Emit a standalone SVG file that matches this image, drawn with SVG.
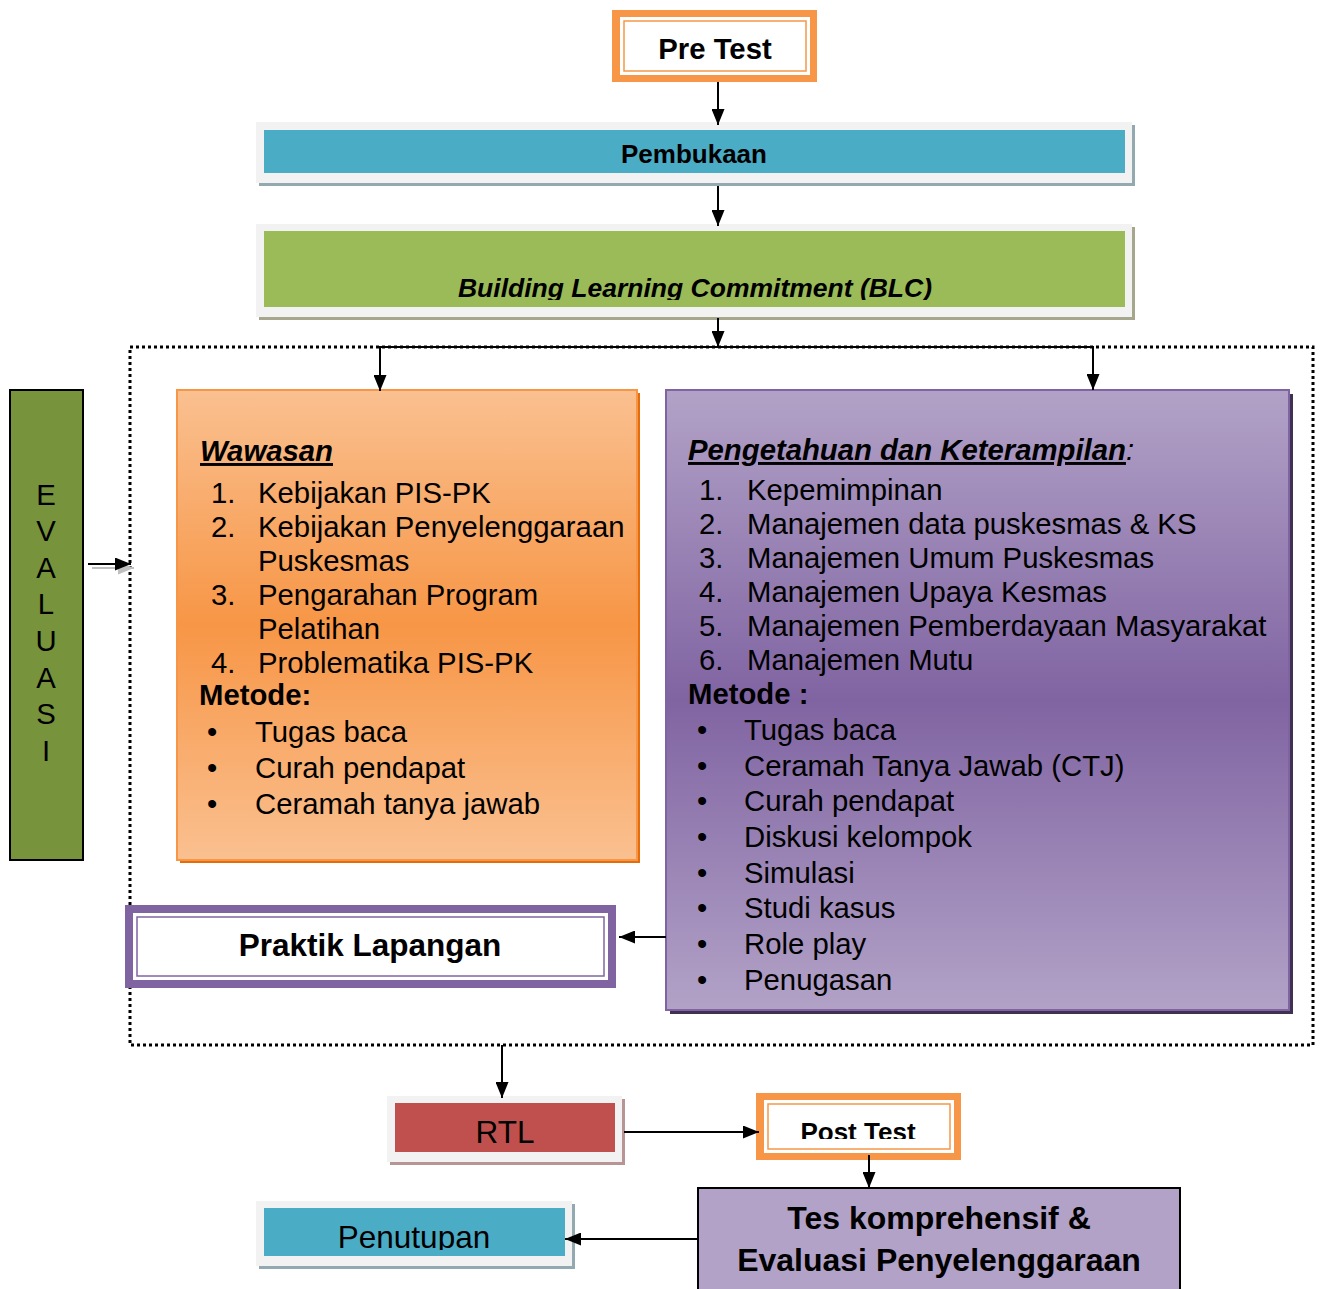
<svg xmlns="http://www.w3.org/2000/svg" width="1320" height="1289" viewBox="0 0 1320 1289">
<style>
text{font-family:"Liberation Sans",Arial,sans-serif;fill:#000}
.b{font-weight:bold}
.t{font-size:29.3px}
.c{text-anchor:middle}
.ln{stroke:#000;stroke-width:2;fill:none}
</style>
<defs>
<marker id="ah" viewBox="0 0 16 13" refX="16" refY="6.5" markerWidth="16" markerHeight="13" markerUnits="userSpaceOnUse" orient="auto">
<path d="M0,0 L16,6.5 L0,13 Z" fill="#000"/>
</marker>
<marker id="ahg" viewBox="0 0 16 13" refX="16" refY="6.5" markerWidth="16" markerHeight="13" markerUnits="userSpaceOnUse" orient="auto">
<path d="M0,0 L16,6.5 L0,13 Z" fill="#BFBFBF"/>
</marker>
<linearGradient id="go" x1="0" y1="0" x2="0" y2="1">
<stop offset="0" stop-color="#FAC090"/><stop offset="0.5" stop-color="#F79646"/><stop offset="1" stop-color="#FAC090"/>
</linearGradient>
<linearGradient id="gp" x1="0" y1="0" x2="0" y2="1">
<stop offset="0" stop-color="#B2A2C7"/><stop offset="0.5" stop-color="#8064A2"/><stop offset="1" stop-color="#B2A2C7"/>
</linearGradient>
<clipPath id="cBLC"><rect x="264" y="231" width="861" height="69"/></clipPath>
<clipPath id="cPost"><rect x="764" y="1100" width="190" height="39"/></clipPath>
<clipPath id="cPen"><rect x="264" y="1208" width="301" height="42"/></clipPath>
</defs>

<g id="pretest">
<rect x="612" y="10" width="205" height="72" fill="#F79646"/>
<rect x="620" y="17" width="190" height="58" fill="#fff"/>
<rect x="624" y="21" width="182" height="50" fill="none" stroke="#F79646" stroke-width="1.5"/>
<text x="715" y="59" class="b c t">Pre Test</text>
</g>

<g id="pembukaan">
<rect x="259" y="125" width="876" height="61" fill="#93A9B0"/>
<rect x="256" y="122" width="876" height="61" fill="#F2F2F2"/>
<rect x="264" y="130" width="861" height="43" fill="#4BACC6"/>
<text x="694" y="163" class="b c" font-size="26">Pembukaan</text>
</g>

<g id="blc">
<rect x="259" y="227" width="876" height="93" fill="#A6A68C"/>
<rect x="256" y="224" width="876" height="93" fill="#F2F2F2"/>
<rect x="264" y="231" width="861" height="76" fill="#9BBB59"/>
<text x="695" y="297" class="b c" font-size="26.5" font-style="italic" clip-path="url(#cBLC)">Building Learning Commitment (BLC)</text>
</g>

<g id="kegiatan">
<rect x="130" y="347" width="1183" height="698" fill="none" stroke="#000" stroke-width="3" stroke-dasharray="3 3"/>
</g>

<g id="evaluasi">
<rect x="10" y="390" width="73" height="470" fill="#77933C" stroke="#000" stroke-width="2"/>
<text class="t c" x="46" y="505">E</text>
<text class="t c" x="46" y="541">V</text>
<text class="t c" x="46" y="578">A</text>
<text class="t c" x="46" y="614">L</text>
<text class="t c" x="46" y="651">U</text>
<text class="t c" x="46" y="688">A</text>
<text class="t c" x="46" y="724">S</text>
<text class="t c" x="46" y="761">I</text>
</g>

<g id="wawasan">
<rect x="180" y="393" width="460" height="470" fill="#E46C0A"/>
<rect x="177" y="390" width="460" height="470" fill="url(#go)" stroke="#F79646" stroke-width="2"/>
<text x="200" y="461" class="b t" font-style="italic" text-decoration="underline">Wawasan</text>
<text x="211" y="503" class="t">1.</text><text x="258" y="503" class="t">Kebijakan PIS-PK</text>
<text x="211" y="537" class="t">2.</text><text x="258" y="537" class="t">Kebijakan Penyelenggaraan</text>
<text x="258" y="571" class="t">Puskesmas</text>
<text x="211" y="605" class="t">3.</text><text x="258" y="605" class="t">Pengarahan Program</text>
<text x="258" y="639" class="t">Pelatihan</text>
<text x="211" y="673" class="t">4.</text><text x="258" y="673" class="t">Problematika PIS-PK</text>
<text x="199" y="705" class="t b">Metode:</text>
<text x="207" y="742" class="t">•</text><text x="255" y="742" class="t">Tugas baca</text>
<text x="207" y="778" class="t">•</text><text x="255" y="778" class="t">Curah pendapat</text>
<text x="207" y="814" class="t">•</text><text x="255" y="814" class="t">Ceramah tanya jawab</text>
</g>

<g id="pengetahuan">
<rect x="670" y="394" width="623" height="620" fill="#3F3151"/>
<rect x="666" y="390" width="623" height="620" fill="url(#gp)" stroke="#8064A2" stroke-width="2"/>
<text x="688" y="460" class="t" font-style="italic"><tspan class="b" text-decoration="underline">Pengetahuan dan Keterampilan</tspan>:</text>
<text x="699" y="500" class="t">1.</text><text x="747" y="500" class="t">Kepemimpinan</text>
<text x="699" y="534" class="t">2.</text><text x="747" y="534" class="t">Manajemen data puskesmas &amp; KS</text>
<text x="699" y="568" class="t">3.</text><text x="747" y="568" class="t">Manajemen Umum Puskesmas</text>
<text x="699" y="602" class="t">4.</text><text x="747" y="602" class="t">Manajemen Upaya Kesmas</text>
<text x="699" y="636" class="t">5.</text><text x="747" y="636" class="t">Manajemen Pemberdayaan Masyarakat</text>
<text x="699" y="670" class="t">6.</text><text x="747" y="670" class="t">Manajemen Mutu</text>
<text x="688" y="704" class="t b">Metode :</text>
<text x="697" y="740" class="t">•</text><text x="744" y="740" class="t">Tugas baca</text>
<text x="697" y="776" class="t">•</text><text x="744" y="776" class="t">Ceramah Tanya Jawab (CTJ)</text>
<text x="697" y="811" class="t">•</text><text x="744" y="811" class="t">Curah pendapat</text>
<text x="697" y="847" class="t">•</text><text x="744" y="847" class="t">Diskusi kelompok</text>
<text x="697" y="883" class="t">•</text><text x="744" y="883" class="t">Simulasi</text>
<text x="697" y="918" class="t">•</text><text x="744" y="918" class="t">Studi kasus</text>
<text x="697" y="954" class="t">•</text><text x="744" y="954" class="t">Role play</text>
<text x="697" y="990" class="t">•</text><text x="744" y="990" class="t">Penugasan</text>
</g>

<g id="praktik">
<rect x="125" y="905" width="491" height="83" fill="#8064A2"/>
<rect x="133" y="913" width="475" height="67" fill="#fff"/>
<rect x="137" y="917" width="467" height="59" fill="none" stroke="#8064A2" stroke-width="1.5"/>
<text x="370" y="956" class="b c" font-size="31.5">Praktik Lapangan</text>
</g>

<g id="rtl">
<rect x="390" y="1099" width="235" height="66" fill="#B89494"/>
<rect x="387" y="1096" width="235" height="66" fill="#F2F2F2"/>
<rect x="395" y="1103" width="220" height="49" fill="#C0504D"/>
<text x="505" y="1143" class="c" font-size="31.5">RTL</text>
</g>

<g id="posttest">
<rect x="756" y="1093" width="205" height="67" fill="#F79646"/>
<rect x="764" y="1100" width="190" height="53" fill="#fff"/>
<rect x="768" y="1104" width="182" height="45" fill="none" stroke="#F79646" stroke-width="1.5"/>
<text x="858" y="1141" class="b c" font-size="26" clip-path="url(#cPost)">Post Test</text>
</g>

<g id="tes">
<rect x="698" y="1188" width="482" height="110" fill="#B2A2C7" stroke="#000" stroke-width="2"/>
<text x="939" y="1229" class="b c" font-size="32">Tes komprehensif &amp;</text>
<text x="939" y="1271" class="b c" font-size="32">Evaluasi Penyelenggaraan</text>
</g>

<g id="penutupan">
<rect x="259" y="1204" width="316" height="65" fill="#93A9B0"/>
<rect x="256" y="1201" width="316" height="65" fill="#F2F2F2"/>
<rect x="264" y="1208" width="301" height="48" fill="#4BACC6"/>
<text x="414" y="1248" class="c" font-size="31.5" clip-path="url(#cPen)">Penutupan</text>
</g>

<g id="connectors">
<line class="ln" x1="718" y1="82" x2="718" y2="125" marker-end="url(#ah)"/>
<line class="ln" x1="718" y1="186" x2="718" y2="226" marker-end="url(#ah)"/>
<line class="ln" x1="718" y1="318" x2="718" y2="347" marker-end="url(#ah)"/>
<line class="ln" x1="379" y1="347" x2="1094" y2="347"/>
<line class="ln" x1="380" y1="347" x2="380" y2="391" marker-end="url(#ah)"/>
<line class="ln" x1="1093" y1="347" x2="1093" y2="390" marker-end="url(#ah)"/>
<line class="ln" x1="666" y1="937" x2="619" y2="937" marker-end="url(#ah)"/>
<line x1="92" y1="568" x2="134" y2="568" stroke="#BFBFBF" stroke-width="2" marker-end="url(#ahg)"/>
<line class="ln" x1="88" y1="564" x2="131" y2="564" marker-end="url(#ah)"/>
<line class="ln" x1="502" y1="1045" x2="502" y2="1098" marker-end="url(#ah)"/>
<line class="ln" x1="624" y1="1132" x2="759" y2="1132" marker-end="url(#ah)"/>
<line class="ln" x1="869" y1="1155" x2="869" y2="1188" marker-end="url(#ah)"/>
<line class="ln" x1="698" y1="1239" x2="565" y2="1239" marker-end="url(#ah)"/>
</g>
</svg>
